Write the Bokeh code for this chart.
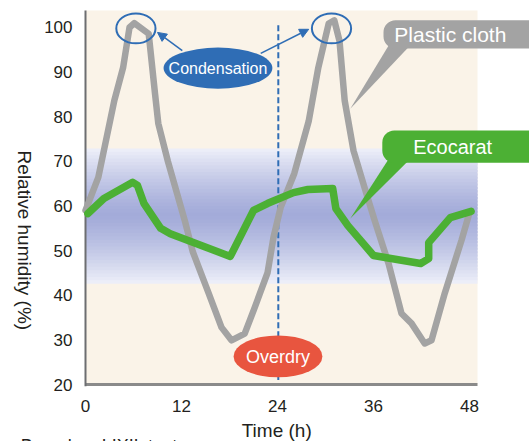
import numpy as np
from bokeh.plotting import figure
from bokeh.models import FixedTicker, LinearAxis, Arrow, NormalHead
from bokeh.core.properties import value
from bokeh.embed import file_html
from bokeh.resources import INLINE

# ---- data ----
time_plastic = [0, 1.6, 3.6, 4.7, 5.5, 6.1, 7.9, 8.7, 9.1, 10.3, 12.4, 13.4, 15.4, 17.0, 18.25, 19.9,
                21.1, 22.75, 23.5, 24.4, 26.1, 27.9, 29.1, 30.4, 31.1, 31.75, 32.4, 33.5, 34.9, 36.1,
                37.9, 39.5, 40.75, 42.4, 43.25, 44.9, 47.0, 48.0]
rh_plastic = [59, 66.4, 83.6, 91, 100, 101, 98.6, 85, 78.5, 70, 56.8, 49.8, 40.4, 32.8, 29.9, 31.4,
              37.0, 45.0, 53.0, 59.7, 67.3, 79, 91, 100.9, 101.6, 97, 83.6, 72.4, 64, 57,
              47, 35.9, 33.7, 29.2, 29.9, 40.4, 52.3, 58.5]

time_eco = [0.3, 2.3, 5.9, 6.5, 7.3, 9.4, 10.6, 18.1, 21.0, 22.8, 26.0, 27.8, 30.9, 31.3, 32.8,
            36.0, 41.9, 42.9, 42.9, 45.6, 48.2]
rh_eco = [58.3, 61.7, 65.3, 64.6, 60.6, 55.0, 53.8, 48.7, 59.0, 60.6, 63.0, 63.7, 63.9, 59.4, 55.6,
          48.9, 47.1, 48.2, 51.8, 57.4, 58.8]

x_ticks = [0, 12, 24, 36, 48]
y_ticks = [20, 30, 40, 50, 60, 70, 80, 90, 100]
band_low, band_high = 42.6, 72.9

FONT = "Liberation Sans"
TXT = "#231f20"
BLUE = "#2f6db5"
GRAY = "#a3a3a3"
GREEN = "#4cb034"
RED = "#e8553f"
CREAM = "#faf3e8"

# frame covers the whole canvas; axes are fixed inside it
p = figure(width=529, height=441, x_range=(-10.625, 55.5), y_range=(7.227, 106.05),
           output_backend="svg", toolbar_location=None,
           x_axis_location=None, y_axis_location=None,
           min_border_left=0, min_border_right=0, min_border_top=0, min_border_bottom=0)
p.outline_line_color = None
p.background_fill_color = "white"
p.border_fill_color = "white"
p.xgrid.visible = False
p.ygrid.visible = False

yaxis = LinearAxis(fixed_location=0, ticker=FixedTicker(ticks=y_ticks))
xaxis = LinearAxis(fixed_location=20, ticker=FixedTicker(ticks=x_ticks))
for ax in (xaxis, yaxis):
    ax.axis_line_color = None
    ax.major_tick_line_color = None
    ax.minor_tick_line_color = None
    ax.major_label_text_font = FONT
    ax.major_label_text_font_size = "17px"
    ax.major_label_text_color = TXT
xaxis.major_label_standoff = 9
yaxis.major_label_standoff = 7
p.add_layout(yaxis, "left")
p.add_layout(xaxis, "below")

# plot-area background
p.quad(left=0, right=49, bottom=20, top=103.81, fill_color=CREAM, line_color=None)

# gradient comfort band (overlapping strips to avoid seams)
n = 40
edges = np.linspace(band_low, band_high, n + 1)
dark = np.array([0xa3, 0xab, 0xd9])
light = np.array([0xee, 0xf0, 0xf9])
mid = 58.0
cols = []
for i in range(n):
    c = 0.5 * (edges[i] + edges[i + 1])
    half = (band_high - mid) if c > mid else (mid - band_low)
    t = min(abs(c - mid) / half, 1.0) ** 1.3
    rgb = dark + (light - dark) * t
    cols.append("#%02x%02x%02x" % tuple(int(round(v)) for v in rgb))
step = edges[1] - edges[0]
bottoms = edges[:-1].copy()
tops = edges[1:].copy()
tops[:-1] += step * 0.6
p.quad(left=0, right=49, bottom=bottoms, top=tops, fill_color=cols, line_color=None)

# axis lines
p.segment(x0=0, y0=20, x1=49, y1=20, line_color="#8a8a8a", line_width=3)
p.segment(x0=0, y0=19.6, x1=0, y1=103.81, line_color="#6d6e71", line_width=2)

# dashed line at 24 h
p.segment(x0=24.1, y0=100.5, x1=24.1, y1=21, line_color=BLUE, line_width=2, line_dash="6 3")

# data lines
p.line(time_plastic, rh_plastic, line_color=GRAY, line_width=6.5, line_cap="round", line_join="round")
p.line(time_eco, rh_eco, line_color=GREEN, line_width=7.5, line_cap="round", line_join="round")

# peak circles
p.ellipse(x=[6.3, 30.75], y=[99.8, 99.8], width=4.9, height=6.7,
          fill_color=None, line_color=BLUE, line_width=2)

# condensation bubble + arrows
p.ellipse(x=16.56, y=90.9, width=13.6, height=9.2, fill_color=BLUE, line_color=None)
p.text(x=[16.56], y=[90.7], text=["Condensation"], text_color="white", text_font=value(FONT),
       text_font_size="16px", text_align="center", text_baseline="middle")
for xs, ys, xe, ye in [(12.1, 94.8, 9.0, 98.9), (21.9, 94.2, 27.9, 99.6)]:
    p.add_layout(Arrow(end=NormalHead(size=9, fill_color=BLUE, line_color=BLUE),
                       x_start=xs, y_start=ys, x_end=xe, y_end=ye,
                       line_color=BLUE, line_width=1.5))

# overdry bubble
p.ellipse(x=24.06, y=26.3, width=11.1, height=9.4, fill_color=RED, line_color=None)
p.text(x=[24.06], y=[26.2], text=["Overdry"], text_color="white", text_font=value(FONT),
       text_font_size="18px", text_align="center", text_baseline="middle")

# callouts
p.patch(x=[38.1, 40.9, 33.1], y=[96.6, 96.6, 81.8], fill_color=GRAY, line_color=None)
p.quad(left=37.25, right=58, bottom=95.3, top=101.6, fill_color=GRAY, line_color=None,
       border_radius=12)
p.text(x=[45.6], y=[98.5], text=["Plastic cloth"], text_color="white", text_font=value(FONT),
       text_font_size="21px", text_align="center", text_baseline="middle")

p.patch(x=[38.1, 40.9, 33.1], y=[71.1, 71.1, 57.2], fill_color=GREEN, line_color=None)
p.quad(left=37.1, right=58, bottom=69.7, top=76.9, fill_color=GREEN, line_color=None,
       border_radius=12)
p.text(x=[45.9], y=[73.3], text=["Ecocarat"], text_color="white", text_font=value(FONT),
       text_font_size="20px", text_align="center", text_baseline="middle")

# axis titles and note
p.text(x=[-7.6], y=[52.3], text=["Relative humidity (%)"], angle=-np.pi / 2,
       text_font=value(FONT), text_font_size="19px", text_color=TXT,
       text_align="center", text_baseline="middle")
p.text(x=[23.9], y=[9.6], text=["Time (h)"], text_font=value(FONT), text_font_size="19px",
       text_color=TXT, text_align="center", text_baseline="middle")
p.text(x=[-8.1], y=[8.5], text=["Based on LIXIL test"], text_font=value(FONT),
       text_font_size="18px", text_color=TXT, text_align="left", text_baseline="top")

open("out.html", "w").write(file_html(p, INLINE))
